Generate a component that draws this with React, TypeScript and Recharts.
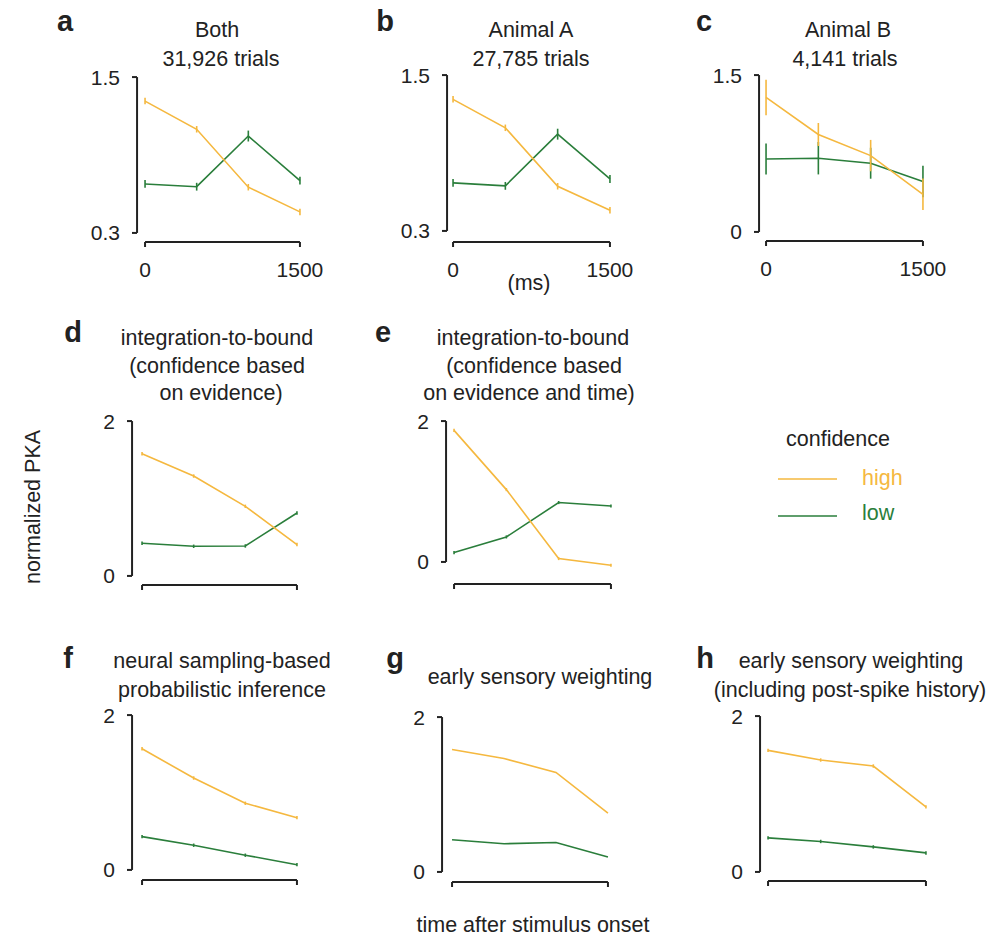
import React from 'react';
import { LineChart, Line, XAxis, YAxis, ErrorBar, ReferenceLine } from 'recharts';

const FONT = '"Liberation Sans", Arial, sans-serif';
const HIGH_COLOR = '#F5B83F';
const LOW_COLOR = '#2A7E3B';
const INK = '#222';

// time bins (ms after stimulus onset)
const TIME_MS = [0, 500, 1000, 1500];

// a: both animals
const BOTH_HIGH = [1.315, 1.098, 0.652, 0.462];
const BOTH_HIGH_ERR = [0.025, 0.025, 0.025, 0.025];
const BOTH_LOW = [0.677, 0.656, 1.046, 0.702];
const BOTH_LOW_ERR = [0.03, 0.03, 0.042, 0.03];

// b: animal A
const A_HIGH = [1.313, 1.094, 0.644, 0.459];
const A_HIGH_ERR = [0.025, 0.025, 0.025, 0.025];
const A_LOW = [0.67, 0.647, 1.045, 0.7];
const A_LOW_ERR = [0.03, 0.03, 0.042, 0.03];

// c: animal B
const B_HIGH = [1.286, 0.932, 0.73, 0.36];
const B_HIGH_ERR = [0.17, 0.11, 0.15, 0.15];
const B_LOW = [0.698, 0.705, 0.657, 0.482];
const B_LOW_ERR = [0.148, 0.155, 0.148, 0.15];

// d-h: model predictions
const ITB_HIGH = [1.579, 1.29, 0.899, 0.405];
const ITB_LOW = [0.422, 0.383, 0.387, 0.813];
const ITB_TIME_HIGH = [1.868, 1.027, 0.048, -0.047];
const ITB_TIME_LOW = [0.133, 0.355, 0.843, 0.794];
const SAMPLING_HIGH = [1.565, 1.187, 0.861, 0.675];
const SAMPLING_LOW = [0.43, 0.319, 0.19, 0.068];
const EARLY_HIGH = [1.581, 1.465, 1.285, 0.758];
const EARLY_LOW = [0.415, 0.364, 0.38, 0.193];
const EARLY_PS_HIGH = [1.56, 1.436, 1.359, 0.835];
const EARLY_PS_LOW = [0.437, 0.391, 0.321, 0.244];
const MODEL_ERR = [0.022, 0.022, 0.022, 0.022];

const DATA_TICKS = [0.3, 1.5];
const B_TICKS = [0, 1.5];
const MODEL_TICKS = [0, 2];
const X_TICKS = [0, 1500];

type Row = { t: number; high: number; highErr?: number; low: number; lowErr?: number };

const rowsOf = (high: number[], low: number[], highErr?: number[], lowErr?: number[]): Row[] =>
  TIME_MS.map((t, i) => ({
    t,
    high: high[i],
    highErr: highErr ? highErr[i] : undefined,
    low: low[i],
    lowErr: lowErr ? lowErr[i] : undefined,
  }));

// pixel frame of each panel: y-axis line x, first/last data x, top/bottom tick y, x-axis line y
type Box = { axisX: number; x0: number; right: number; top: number; bot: number; base: number };

const Y_W = 60;
const M_TOP = 12;
const M_RIGHT = 30;

const tickStyle = { fontSize: 21, fill: INK, fontFamily: FONT };

function Panel({
  rows,
  box,
  yTicks,
  showX,
  errors,
}: {
  rows: Row[];
  box: Box;
  yTicks: number[];
  showX: boolean;
  errors: boolean;
}) {
  const xH = showX ? 44 : 12;
  const width = Y_W + (box.right - box.axisX) + M_RIGHT;
  const height = M_TOP + (box.base - box.top) + xH;
  const xMax = X_TICKS[1];
  const xLo = (-xMax * (box.x0 - box.axisX)) / (box.right - box.x0);
  const [yMin, yMax] = yTicks;
  const yLo = yMin - ((box.base - box.bot) * (yMax - yMin)) / (box.bot - box.top);
  // tiny slack so the bracket segments sit just inside the domain
  const xEps = 0.5;
  const yEps = (yMax - yMin) * 0.0005;

  return (
    <div style={{ position: 'absolute', left: box.axisX - Y_W, top: box.top - M_TOP }}>
      <LineChart width={width} height={height} data={rows} margin={{ top: M_TOP, right: M_RIGHT, left: 0, bottom: 0 }}>
        <XAxis
          type="number"
          dataKey="t"
          domain={[xLo - xEps, xMax + xEps]}
          ticks={X_TICKS}
          axisLine={false}
          tickLine={{ stroke: INK, strokeWidth: 2 }}
          tickSize={5}
          tickMargin={15}
          height={xH}
          tick={tickStyle}
          tickFormatter={(v: number) => (showX ? String(v) : '')}
        />
        <YAxis
          type="number"
          domain={[yLo - yEps, yMax + yEps]}
          ticks={yTicks}
          axisLine={false}
          tickLine={{ stroke: INK, strokeWidth: 2 }}
          tickSize={5}
          tickMargin={12}
          width={Y_W}
          tick={tickStyle}
          tickFormatter={(v: number) => String(v)}
        />
        <ReferenceLine
          segment={[{ x: xLo, y: yMin }, { x: xLo, y: yMax }]}
          stroke={INK}
          strokeWidth={2}
          ifOverflow="visible"
        />
        <ReferenceLine
          segment={[{ x: 0, y: yLo }, { x: xMax, y: yLo }]}
          stroke={INK}
          strokeWidth={2}
          ifOverflow="visible"
        />
        <Line dataKey="low" stroke={LOW_COLOR} strokeWidth={1.6} dot={false} isAnimationActive={false}>
          {errors && (
            <ErrorBar dataKey="lowErr" direction="y" width={0} stroke={LOW_COLOR} strokeWidth={1.6} isAnimationActive={false} />
          )}
        </Line>
        <Line dataKey="high" stroke={HIGH_COLOR} strokeWidth={1.6} dot={false} isAnimationActive={false}>
          {errors && (
            <ErrorBar dataKey="highErr" direction="y" width={0} stroke={HIGH_COLOR} strokeWidth={1.6} isAnimationActive={false} />
          )}
        </Line>
      </LineChart>
    </div>
  );
}

const T = (props: { x: number; y: number; children: React.ReactNode; bold?: boolean; size?: number; fill?: string; anchor?: string }) => (
  <text
    x={props.x}
    y={props.y}
    textAnchor={(props.anchor as any) || 'middle'}
    fontSize={props.size || 21.5}
    fontWeight={props.bold ? 'bold' : 'normal'}
    fill={props.fill || INK}
    fontFamily={FONT}
  >
    {props.children}
  </text>
);

export default function App() {
  return (
    <div style={{ position: 'absolute', left: 0, top: 0, width: 990, height: 937, background: '#fff', fontFamily: FONT }}>
      <svg width={990} height={937} style={{ position: 'absolute', left: 0, top: 0 }}>
        <T x={65} y={31} bold size={29}>a</T>
        <T x={385} y={31} bold size={29}>b</T>
        <T x={704} y={31} bold size={29}>c</T>
        <T x={73} y={342} bold size={29}>d</T>
        <T x={383} y={342} bold size={29}>e</T>
        <T x={68} y={668} bold size={29}>f</T>
        <T x={395} y={668} bold size={29}>g</T>
        <T x={705} y={668} bold size={29}>h</T>

        <T x={217} y={37}>Both</T>
        <T x={221} y={66}>31,926 trials</T>
        <T x={531} y={37}>Animal A</T>
        <T x={531} y={66}>27,785 trials</T>
        <T x={848} y={37}>Animal B</T>
        <T x={845} y={66}>4,141 trials</T>
        <T x={529} y={290}>(ms)</T>

        <T x={217} y={345}>integration-to-bound</T>
        <T x={217} y={373}>(confidence based</T>
        <T x={221} y={400}>on evidence)</T>
        <T x={533} y={345}>integration-to-bound</T>
        <T x={534} y={373}>(confidence based</T>
        <T x={529} y={400}>on evidence and time)</T>

        <T x={222} y={668}>neural sampling-based</T>
        <T x={222} y={697}>probabilistic inference</T>
        <T x={540} y={684}>early sensory weighting</T>
        <T x={851} y={668}>early sensory weighting</T>
        <T x={850} y={697}>(including post-spike history)</T>

        <g transform="translate(40 507) rotate(-90)">
          <T x={0} y={0}>normalized PKA</T>
        </g>
        <T x={533} y={932}>time after stimulus onset</T>

        <T x={838} y={446}>confidence</T>
        <line x1={778} x2={837} y1={479} y2={479} stroke={HIGH_COLOR} strokeWidth={1.6} />
        <T x={862} y={485} anchor="start" fill={HIGH_COLOR}>high</T>
        <line x1={778} x2={837} y1={516} y2={516} stroke={LOW_COLOR} strokeWidth={1.6} />
        <T x={862} y={520} anchor="start" fill={LOW_COLOR}>low</T>
      </svg>

      <Panel rows={rowsOf(BOTH_HIGH, BOTH_LOW, BOTH_HIGH_ERR, BOTH_LOW_ERR)} box={{ axisX: 137, x0: 145, right: 300, top: 77, bot: 233, base: 242 }} yTicks={DATA_TICKS} showX errors />
      <Panel rows={rowsOf(A_HIGH, A_LOW, A_HIGH_ERR, A_LOW_ERR)} box={{ axisX: 447, x0: 453, right: 610, top: 75, bot: 231, base: 242 }} yTicks={DATA_TICKS} showX errors />
      <Panel rows={rowsOf(B_HIGH, B_LOW, B_HIGH_ERR, B_LOW_ERR)} box={{ axisX: 759, x0: 766, right: 923, top: 75, bot: 232, base: 241 }} yTicks={B_TICKS} showX errors />

      <Panel rows={rowsOf(ITB_HIGH, ITB_LOW, MODEL_ERR, MODEL_ERR)} box={{ axisX: 132, x0: 142, right: 297, top: 421, bot: 576, base: 585 }} yTicks={MODEL_TICKS} showX={false} errors />
      <Panel rows={rowsOf(ITB_TIME_HIGH, ITB_TIME_LOW, MODEL_ERR, MODEL_ERR)} box={{ axisX: 446, x0: 454, right: 611, top: 421, bot: 562, base: 584 }} yTicks={MODEL_TICKS} showX={false} errors />

      <Panel rows={rowsOf(SAMPLING_HIGH, SAMPLING_LOW, MODEL_ERR, MODEL_ERR)} box={{ axisX: 132, x0: 142, right: 297, top: 715, bot: 870, base: 880 }} yTicks={MODEL_TICKS} showX={false} errors />
      <Panel rows={rowsOf(EARLY_HIGH, EARLY_LOW)} box={{ axisX: 442, x0: 452, right: 608, top: 717, bot: 872, base: 882 }} yTicks={MODEL_TICKS} showX={false} errors={false} />
      <Panel rows={rowsOf(EARLY_PS_HIGH, EARLY_PS_LOW, MODEL_ERR, MODEL_ERR)} box={{ axisX: 760, x0: 768, right: 926, top: 716, bot: 872, base: 881 }} yTicks={MODEL_TICKS} showX={false} errors />
    </div>
  );
}
